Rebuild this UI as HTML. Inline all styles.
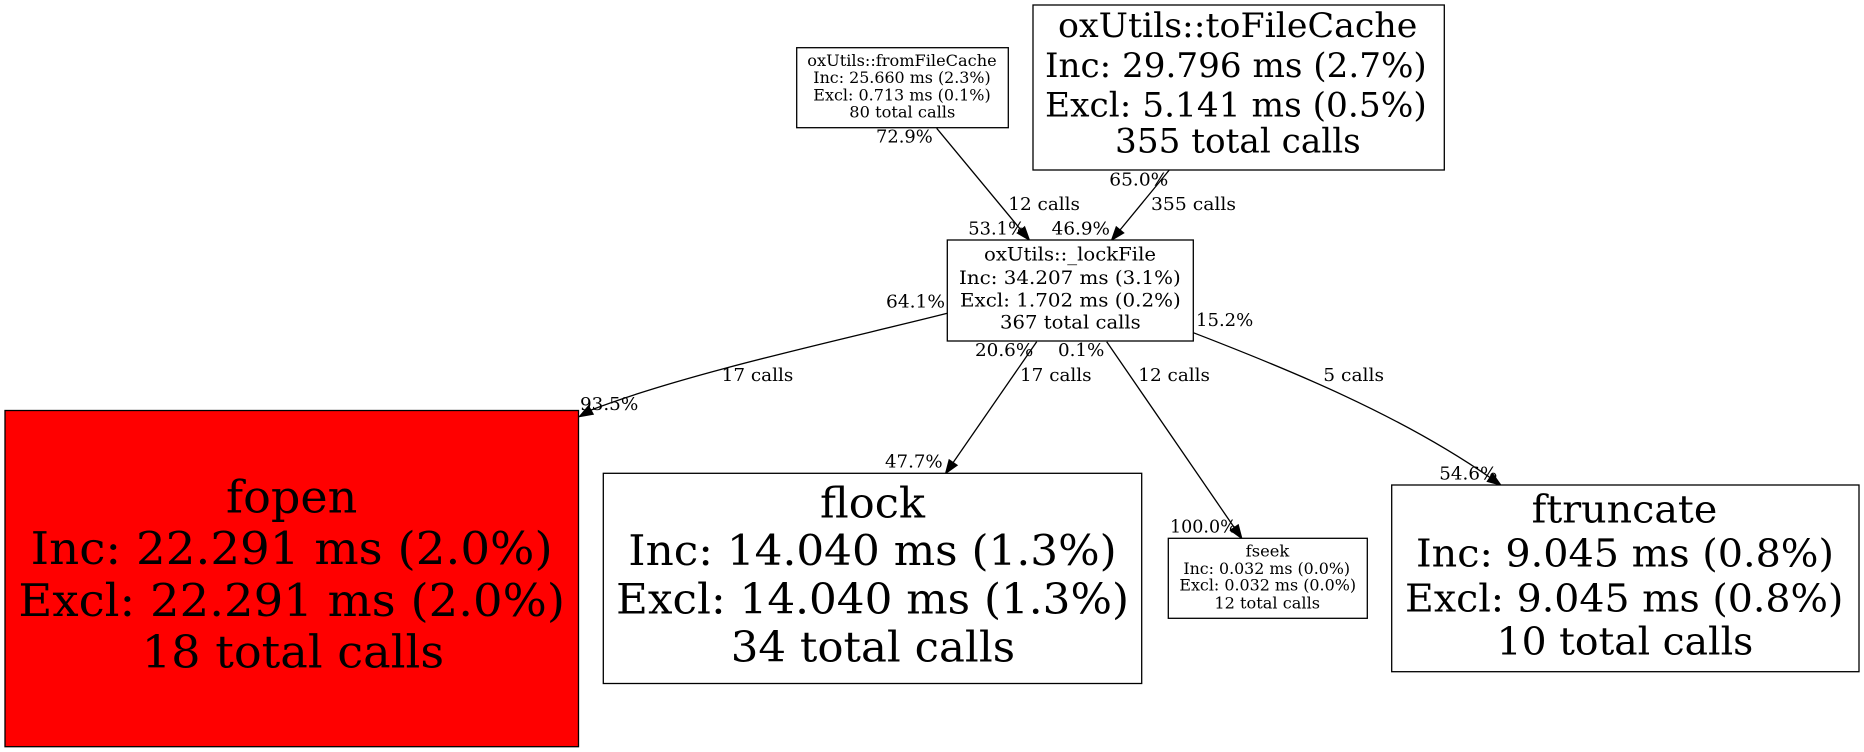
<!DOCTYPE html>
<html>
<head>
<meta charset="utf-8">
<style>
  html, body { margin: 0; padding: 0; background: #ffffff; }
  body { width: 1864px; height: 752px; overflow: hidden; }
  svg { display: block; }
  text { font-family: "DejaVu Serif", "Liberation Serif", serif; fill: #000; }
</style>
</head>
<body>
<svg width="1864" height="752" viewBox="0 0 1864 752" xmlns="http://www.w3.org/2000/svg">
  <rect x="0" y="0" width="1864" height="752" fill="#ffffff"/>

  <!-- ===== Edges ===== -->
  <g fill="none" stroke="#000" stroke-width="1.3">
    <!-- fromFileCache -> _lockFile -->
    <path d="M936.7,128.3 L1021.0,230.0"/>
    <!-- toFileCache -> _lockFile -->
    <path d="M1169.3,170 L1120.0,230.0"/>
    <!-- _lockFile -> fopen -->
    <path d="M947.3,313.3 C850,338 690,372 590.8,410.1"/>
    <!-- _lockFile -> flock -->
    <path d="M1036.7,341.7 L953.1,462.6"/>
    <!-- _lockFile -> fseek -->
    <path d="M1106.7,341.7 L1234.3,527.6"/>
    <!-- _lockFile -> ftruncate -->
    <path d="M1193.3,332.7 C1290,370 1400,415 1490.05,477.55"/>
  </g>
  <g fill="#000" stroke="#000" stroke-width="1.3">
    <polygon points="1029.3,240 1017.4,233.0 1024.6,227.0"/>
    <polygon points="1111.7,240 1116.3,227.0 1123.6,232.9"/>
    <polygon points="579.5,416.5 588.5,406.0 593.1,414.2"/>
    <polygon points="945.7,473.3 949.2,459.9 957.0,465.3"/>
    <polygon points="1241.7,538.3 1230.5,530.3 1238.2,524.9"/>
    <polygon points="1500.7,485 1487.4,481.4 1492.7,473.7"/>
  </g>

  <!-- ===== Nodes ===== -->
  <g stroke="#000" stroke-width="1.3">
    <rect x="796.7" y="47.7" width="211.6" height="80" fill="#fff"/>
    <rect x="1033" y="5" width="411.3" height="165" fill="#fff"/>
    <rect x="947.3" y="240" width="246" height="101" fill="#fff"/>
    <rect x="5" y="410.5" width="573.5" height="336.2" fill="#ff0000"/>
    <rect x="603.3" y="473.3" width="538.4" height="210.2" fill="#fff"/>
    <rect x="1168.3" y="538.3" width="199" height="80" fill="#fff"/>
    <rect x="1391.7" y="485" width="467.3" height="186.7" fill="#fff"/>
  </g>

  <!-- fromFileCache -->
  <g font-size="15.6" text-anchor="middle">
    <text x="902" y="65.8" textLength="189.4" lengthAdjust="spacingAndGlyphs">oxUtils::fromFileCache</text>
    <text x="902" y="83.1" textLength="177.4" lengthAdjust="spacingAndGlyphs">Inc: 25.660 ms (2.3%)</text>
    <text x="902" y="100.6" textLength="177.4" lengthAdjust="spacingAndGlyphs">Excl: 0.713 ms (0.1%)</text>
    <text x="902.3" y="117.7" textLength="106" lengthAdjust="spacingAndGlyphs">80 total calls</text>
  </g>

  <!-- toFileCache -->
  <g font-size="33.5" text-anchor="middle">
    <text x="1237.7" y="36.8" textLength="359.3" lengthAdjust="spacingAndGlyphs">oxUtils::toFileCache</text>
    <text x="1235.9" y="77" textLength="381.7" lengthAdjust="spacingAndGlyphs">Inc: 29.796 ms (2.7%)</text>
    <text x="1235.9" y="116.3" textLength="381.7" lengthAdjust="spacingAndGlyphs">Excl: 5.141 ms (0.5%)</text>
    <text x="1237.9" y="152.6" textLength="245.7" lengthAdjust="spacingAndGlyphs">355 total calls</text>
  </g>

  <!-- _lockFile -->
  <g font-size="19" text-anchor="middle">
    <text x="1070" y="260.7" textLength="172" lengthAdjust="spacingAndGlyphs">oxUtils::_lockFile</text>
    <text x="1069.9" y="284" textLength="221.7" lengthAdjust="spacingAndGlyphs">Inc: 34.207 ms (3.1%)</text>
    <text x="1070.4" y="306.7" textLength="220.7" lengthAdjust="spacingAndGlyphs">Excl: 1.702 ms (0.2%)</text>
    <text x="1070.4" y="328.3" textLength="140.7" lengthAdjust="spacingAndGlyphs">367 total calls</text>
  </g>

  <!-- fopen -->
  <g font-size="45" text-anchor="middle">
    <text x="291.7" y="512.7" textLength="131.3" lengthAdjust="spacingAndGlyphs">fopen</text>
    <text x="291.7" y="564" textLength="522" lengthAdjust="spacingAndGlyphs">Inc: 22.291 ms (2.0%)</text>
    <text x="291.7" y="616" textLength="546.7" lengthAdjust="spacingAndGlyphs">Excl: 22.291 ms (2.0%)</text>
    <text x="292.9" y="667.7" textLength="302.3" lengthAdjust="spacingAndGlyphs">18 total calls</text>
  </g>

  <!-- flock -->
  <g font-size="42" text-anchor="middle">
    <text x="872.5" y="517.3" textLength="105" lengthAdjust="spacingAndGlyphs">flock</text>
    <text x="872.5" y="565" textLength="488.4" lengthAdjust="spacingAndGlyphs">Inc: 14.040 ms (1.3%)</text>
    <text x="872.5" y="613.3" textLength="513" lengthAdjust="spacingAndGlyphs">Excl: 14.040 ms (1.3%)</text>
    <text x="872.9" y="661.7" textLength="284.3" lengthAdjust="spacingAndGlyphs">34 total calls</text>
  </g>

  <!-- fseek -->
  <g font-size="15.6" text-anchor="middle">
    <text x="1267.5" y="556.7" textLength="43.6" lengthAdjust="spacingAndGlyphs">fseek</text>
    <text x="1266.7" y="574" textLength="166.7" lengthAdjust="spacingAndGlyphs">Inc: 0.032 ms (0.0%)</text>
    <text x="1267.7" y="590.7" textLength="176.7" lengthAdjust="spacingAndGlyphs">Excl: 0.032 ms (0.0%)</text>
    <text x="1267.2" y="608.3" textLength="105.7" lengthAdjust="spacingAndGlyphs">12 total calls</text>
  </g>

  <!-- ftruncate -->
  <g font-size="38" text-anchor="middle">
    <text x="1624.5" y="522.7" textLength="185.6" lengthAdjust="spacingAndGlyphs">ftruncate</text>
    <text x="1625" y="566.7" textLength="418" lengthAdjust="spacingAndGlyphs">Inc: 9.045 ms (0.8%)</text>
    <text x="1624.2" y="611.7" textLength="438.3" lengthAdjust="spacingAndGlyphs">Excl: 9.045 ms (0.8%)</text>
    <text x="1625" y="654.3" textLength="256.6" lengthAdjust="spacingAndGlyphs">10 total calls</text>
  </g>

  <!-- ===== Edge labels ===== -->
  <g font-size="18" text-anchor="start">
    <text x="876" y="142.7" textLength="56.7" lengthAdjust="spacingAndGlyphs">72.9%</text>
    <text x="1008.3" y="210" textLength="71.7" lengthAdjust="spacingAndGlyphs">12 calls</text>
    <text x="968.3" y="234.3" textLength="56.7" lengthAdjust="spacingAndGlyphs">53.1%</text>
    <text x="1051.7" y="234.3" textLength="58.3" lengthAdjust="spacingAndGlyphs">46.9%</text>
    <text x="1109.3" y="185.7" textLength="59" lengthAdjust="spacingAndGlyphs">65.0%</text>
    <text x="1151" y="210" textLength="85" lengthAdjust="spacingAndGlyphs">355 calls</text>
    <text x="886" y="307.3" textLength="59" lengthAdjust="spacingAndGlyphs">64.1%</text>
    <text x="1196" y="326" textLength="57.3" lengthAdjust="spacingAndGlyphs">15.2%</text>
    <text x="580" y="410" textLength="58.3" lengthAdjust="spacingAndGlyphs">93.5%</text>
    <text x="721.7" y="381" textLength="71.6" lengthAdjust="spacingAndGlyphs">17 calls</text>
    <text x="975" y="356" textLength="58.3" lengthAdjust="spacingAndGlyphs">20.6%</text>
    <text x="1058" y="356" textLength="46.4" lengthAdjust="spacingAndGlyphs">0.1%</text>
    <text x="1020" y="381" textLength="71.6" lengthAdjust="spacingAndGlyphs">17 calls</text>
    <text x="1138.3" y="381" textLength="71.7" lengthAdjust="spacingAndGlyphs">12 calls</text>
    <text x="1323.3" y="381" textLength="60.7" lengthAdjust="spacingAndGlyphs">5 calls</text>
    <text x="885" y="467.3" textLength="57.7" lengthAdjust="spacingAndGlyphs">47.7%</text>
    <text x="1170" y="532.3" textLength="66.7" lengthAdjust="spacingAndGlyphs">100.0%</text>
    <text x="1439.3" y="479.3" textLength="58" lengthAdjust="spacingAndGlyphs">54.6%</text>
  </g>
</svg>
</body>
</html>
